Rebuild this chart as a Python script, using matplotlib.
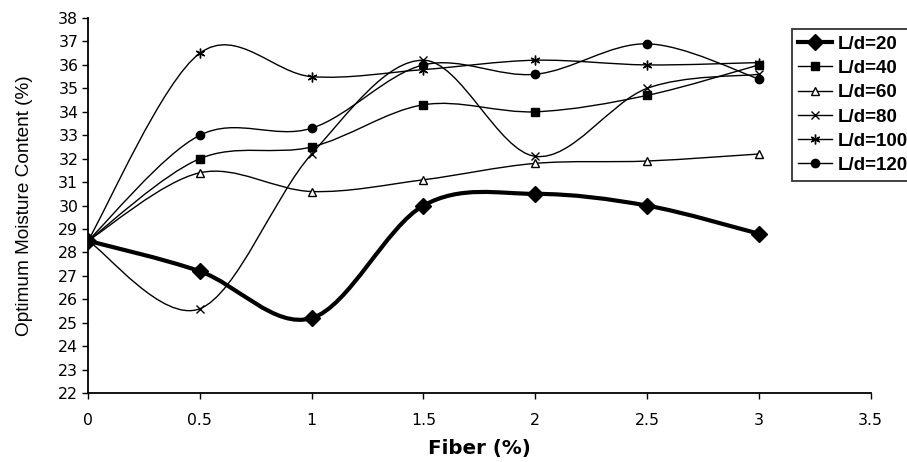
import numpy as np
import matplotlib.pyplot as plt
from matplotlib.path import Path
from matplotlib.patches import PathPatch
from matplotlib.lines import Line2D

plt.rcParams['font.family'] = ['DejaVu Sans']

fiber = [0, 0.5, 1, 1.5, 2, 2.5, 3]
ld20 = [28.5, 27.2, 25.2, 30.0, 30.5, 30.0, 28.8]
ld40 = [28.5, 32.0, 32.5, 34.3, 34.0, 34.7, 36.0]
ld60 = [28.5, 31.4, 30.6, 31.1, 31.8, 31.9, 32.2]
ld80 = [28.5, 25.6, 32.2, 36.2, 32.1, 35.0, 35.6]
ld100 = [28.5, 36.5, 35.5, 35.8, 36.2, 36.0, 36.1]
ld120 = [28.5, 33.0, 33.3, 36.0, 35.6, 36.9, 35.4]

labels = ['L/d=20', 'L/d=40', 'L/d=60', 'L/d=80', 'L/d=100', 'L/d=120']
series = [ld20, ld40, ld60, ld80, ld100, ld120]


def smooth_path(x, y):
    # excel-like smoothed line as cubic bezier segments
    p = np.column_stack([x, y]).astype(float)
    ext = np.vstack([p[0], p, p[-1]])
    verts = [p[0]]
    codes = [Path.MOVETO]
    for i in range(len(p) - 1):
        a, b, c, d = ext[i], ext[i + 1], ext[i + 2], ext[i + 3]
        verts += [b + (c - a) / 6, c - (d - b) / 6, c]
        codes += [Path.CURVE4] * 3
    return Path(verts, codes)


fig = plt.figure(figsize=(9.07, 4.62), dpi=100)
ax = fig.add_axes([0.097, 0.149, 0.863, 0.812])

styles = [
    dict(marker='D', ms=8, mfc='black', lw=3.0),
    dict(marker='s', ms=6, mfc='black', lw=1.0),
    dict(marker='^', ms=6, mfc='white', lw=1.0),
    dict(marker='x', ms=6, mfc='black', lw=1.0),
    dict(marker=(6, 2, 0), ms=7, mfc='black', lw=1.0),
    dict(marker='o', ms=6, mfc='black', lw=1.0),
]

handles = []
for y, st, lab in zip(series, styles, labels):
    patch = PathPatch(smooth_path(fiber, y), fill=False, ec='black', lw=st['lw'],
                      transform=ax.transData, zorder=2)
    ax.add_patch(patch)
    ax.plot(fiber, y, ls='none', marker=st['marker'], ms=st['ms'], mfc=st['mfc'],
            mec='black', mew=1.0, zorder=3)
    handles.append(Line2D([], [], color='black', lw=st['lw'], marker=st['marker'],
                          ms=st['ms'], mfc=st['mfc'], mec='black', mew=1.0))

ax.set_xlim(0, 3.5)
ax.set_ylim(22, 38)
ax.set_xticks(np.arange(0, 3.51, 0.5))
ax.set_xticklabels(['0', '0.5', '1', '1.5', '2', '2.5', '3', '3.5'])
ax.set_yticks(range(22, 39))
ax.spines['top'].set_visible(False)
ax.spines['right'].set_visible(False)
ax.spines['left'].set_linewidth(1.3)
ax.spines['bottom'].set_linewidth(1.3)
ax.tick_params(axis='both', labelsize=11.3, length=4, width=1, direction='out')
ax.tick_params(axis='x', pad=10)
ax.tick_params(axis='y', pad=3)

ax.set_xlabel('Fiber (%)', fontsize=14.3, fontweight='bold', labelpad=8)
ax.set_ylabel('Optimum Moisture Content (%)', fontsize=13.7,
              family=['Liberation Sans', 'DejaVu Sans'])
ax.yaxis.set_label_coords(-0.07, 0.5)

leg = fig.legend(handles, labels, loc='upper left', bbox_to_anchor=(0.873, 0.937),
                 frameon=True, fancybox=False, edgecolor='black', handlelength=1.8,
                 handletextpad=0.3, borderpad=0.35, labelspacing=0.38,
                 prop={'family': ['Liberation Sans', 'DejaVu Sans'],
                       'weight': 'bold', 'size': 13.5}, borderaxespad=0)
leg.get_frame().set_linewidth(1.3)

fig.savefig('out.png', dpi=100)
